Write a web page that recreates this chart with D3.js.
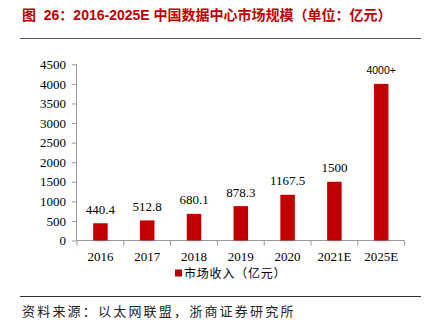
<!DOCTYPE html>
<html>
<head>
<meta charset="utf-8">
<script src="https://cdn.jsdelivr.net/npm/d3@7"></script>
<style>
  body { margin: 0; background: #fff; }
  svg { display: block; }
</style>
</head>
<body>
<div id="chart"></div>
<script>
// data
var years = ["2016", "2017", "2018", "2019", "2020", "2021E", "2025E"];
var revenue = [440.4, 512.8, 680.1, 878.3, 1167.5, 1500, 4000];
var valueLabels = ["440.4", "512.8", "680.1", "878.3", "1167.5", "1500", "4000+"];
var yTicks = [0, 500, 1000, 1500, 2000, 2500, 3000, 3500, 4000, 4500];

var W = 439, H = 331;
var red = "#c00000";
var serif = "'Liberation Serif', 'Times New Roman', serif";
var cjk = "'Noto Sans CJK SC', sans-serif";

const svg = d3.select("#chart")
  .append("svg")
  .attr("width", W)
  .attr("height", H);

// title + rules
svg.append("text")
  .attr("x", 22).attr("y", 20)
  .attr("fill", "#c00000")
  .attr("font-family", "'Liberation Sans', 'Noto Sans CJK SC', sans-serif")
  .attr("font-weight", "bold")
  .attr("font-size", 14)
  .attr("xml:space", "preserve")
  .text("图  26：2016-2025E 中国数据中心市场规模（单位：亿元）");

svg.append("line")
  .attr("x1", 20).attr("x2", 421).attr("y1", 38.5).attr("y2", 38.5)
  .attr("stroke", "#555").attr("stroke-width", 1);

svg.append("line")
  .attr("x1", 20).attr("x2", 421).attr("y1", 296.5).attr("y2", 296.5)
  .attr("stroke", "#333").attr("stroke-width", 1);

svg.append("text")
  .attr("x", 22).attr("y", 316)
  .attr("fill", "#222")
  .attr("font-family", cjk)
  .attr("font-size", 13)
  .attr("letter-spacing", 2.2)
  .text("资料来源：以太网联盟，浙商证券研究所");

// scales
var x = d3.scaleBand().domain(years).range([77, 404.6]).paddingInner(0.69).paddingOuter(0.345);
var y = d3.scaleLinear().domain([0, 4500]).range([240.5, 64.3]);
var xb = d3.scaleBand().domain(years).range([77, 404.6]);

// y axis
var yAxis = svg.append("g")
  .attr("transform", "translate(77,0)")
  .call(d3.axisLeft(y).tickValues(yTicks).tickSize(5).tickPadding(6).tickFormat(d3.format("d")));
yAxis.select(".domain").attr("stroke", "#999").attr("d", "M-0.5,64.3V240.5");
yAxis.selectAll(".tick line").attr("stroke", "#999");
yAxis.selectAll("text").attr("font-family", serif).attr("font-size", 13).attr("fill", "#000");

// x axis with ticks at band boundaries
var xAxis = svg.append("g").attr("transform", "translate(0,240.5)");
xAxis.append("line")
  .attr("x1", 77).attr("x2", 404.6).attr("y1", 0).attr("y2", 0)
  .attr("stroke", "#999");
xAxis.selectAll(".bt")
  .data(years.concat(["end"]))
  .enter().append("line")
  .attr("x1", (d, i) => i < years.length ? xb(d) : 404.6)
  .attr("x2", (d, i) => i < years.length ? xb(d) : 404.6)
  .attr("y1", 0).attr("y2", 5)
  .attr("stroke", "#999");
xAxis.selectAll(".lbl")
  .data(years)
  .enter().append("text")
  .attr("x", d => xb(d) + xb.bandwidth() / 2)
  .attr("y", 20.5)
  .attr("text-anchor", "middle")
  .attr("font-family", serif)
  .attr("font-size", 13)
  .text(d => d);

// bars
svg.selectAll(".bar")
  .data(revenue)
  .enter().append("rect")
  .attr("x", (d, i) => x(years[i]))
  .attr("width", x.bandwidth())
  .attr("y", d => y(d))
  .attr("height", d => y(0) - y(d))
  .attr("fill", red);

// value labels
svg.selectAll(".val")
  .data(revenue)
  .enter().append("text")
  .attr("x", (d, i) => x(years[i]) + x.bandwidth() / 2)
  .attr("y", d => y(d) - 9.5)
  .attr("text-anchor", "middle")
  .attr("font-family", (d, i) => i === revenue.length - 1 ? "'Liberation Sans', Arial, sans-serif" : serif)
  .attr("font-size", (d, i) => i === revenue.length - 1 ? 10.5 : 13)
  .text((d, i) => valueLabels[i]);

// legend
svg.append("rect")
  .attr("x", 175).attr("y", 269.5).attr("width", 7).attr("height", 7)
  .attr("fill", red);
svg.append("text")
  .attr("x", 184).attr("y", 277.5)
  .attr("font-family", cjk)
  .attr("font-size", 12)
  .attr("letter-spacing", 0.8)
  .attr("fill", "#000")
  .text("市场收入（亿元）");
</script>
</body>
</html>
